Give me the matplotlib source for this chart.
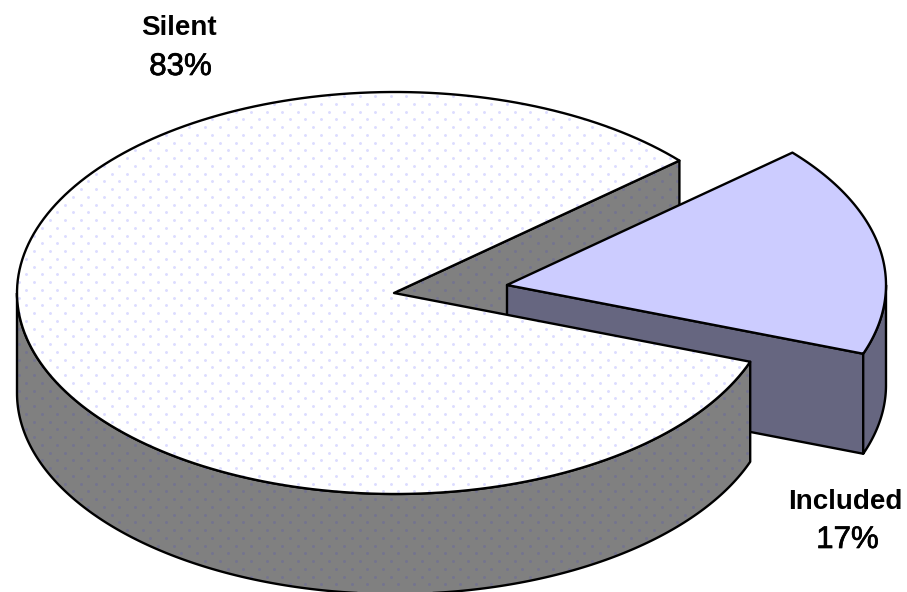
import numpy as np
import matplotlib
matplotlib.use("Agg")
import matplotlib.pyplot as plt
import matplotlib.patheffects as pe
from matplotlib.patches import Polygon

labels = ["Silent", "Included"]
shares = [83, 17]

plt.rcParams['font.family'] = ['Liberation Sans', 'DejaVu Sans']

# pie layout in image pixels
cx, cy = 395, 293
apex_x = 394
rx, ry = 378, 201
depth = 100
explode = (113, -8)
gap_top = 41.2   # angle where the Included slice starts

fig = plt.figure(figsize=(9.07, 5.92), dpi=100)
ax = fig.add_axes([0, 0, 1, 1])
ax.set_xlim(0, 907)
ax.set_ylim(592, 0)
ax.axis("off")

gap_bottom = gap_top - shares[1] / sum(shares) * 360


def arc(a0, a1, dx=0, dy=0):
    t = np.radians(np.linspace(a0, a1, 200))
    return np.column_stack([cx + dx + rx * np.cos(t), cy + dy - ry * np.sin(t)])


def face(points, color, dots=None):
    # fill, then the dot texture, then the outline on top
    fill = Polygon(points, closed=True, facecolor=color, edgecolor="none", zorder=face.z)
    ax.add_patch(fill)
    if dots is not None:
        xs, ys = [], []
        for i, y in enumerate(np.arange(3, 592, 7.75)):
            x = np.arange(3 + (i % 2) * 7.75, 907, 15.5)
            xs.extend(x)
            ys.extend([y] * len(x))
        sc = ax.scatter(xs, ys, s=4.5, color=dots, linewidths=0, zorder=face.z)
        sc.set_clip_path(fill)
    ax.add_patch(Polygon(points, closed=True, facecolor="none", edgecolor="black",
                         linewidth=1.7, joinstyle="round", zorder=face.z))
    face.z += 1


face.z = 1

apex = np.array([[apex_x, cy]])
down = np.array([0, depth])

# inner wall of the main pie, seen through the gap
corner = arc(gap_top, gap_top, 0, 0)[:1]
face(np.vstack([apex, corner, corner + down, apex + down]), "#808080", "#74748f")

# exploded slice
dx, dy = explode
s_apex = apex + explode
s_rim = arc(gap_bottom, gap_top, dx, dy)
s_corner = s_rim[:1]
face(np.vstack([s_apex, s_corner, s_corner + down, s_apex + down]), "#666680")
s_side = arc(gap_bottom, 0, dx, dy)
face(np.vstack([s_side, (s_side + down)[::-1]]), "#666680")
face(np.vstack([s_apex, s_rim]), "#ccccff")

# main pie
side = arc(180, 360 + gap_bottom)
face(np.vstack([side, (side + down)[::-1]]), "#808080", "#74748f")
face(np.vstack([apex, arc(gap_top, 360 + gap_bottom)]), "white", "#dcdcff")

# names are bold, the percentages are lighter and wider
ax.text(178.5, 35, labels[0], ha="center", va="baseline", fontsize=20, fontweight="bold", zorder=20)
ax.text(845, 509, labels[1], ha="center", va="baseline", fontsize=20, fontweight="bold", zorder=20)
for x, y, share in [(180.5, 75, shares[0]), (847.5, 548, shares[1])]:
    t = ax.text(x, y, f"{share}%", ha="center", va="baseline", fontsize=22.5, zorder=20)
    t.set_path_effects([pe.withStroke(linewidth=0.5, foreground="black")])

fig.savefig("out.png", dpi=100)
